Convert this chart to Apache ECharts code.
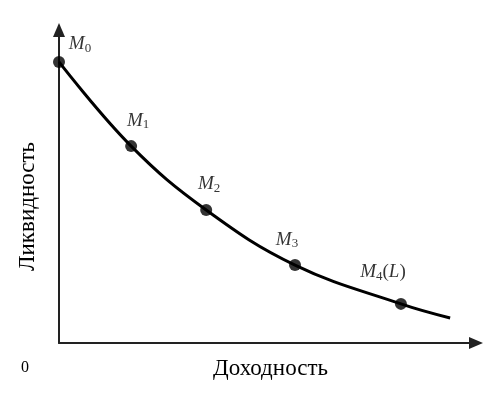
<!DOCTYPE html>
<html><head><meta charset="utf-8">
<script src="https://cdn.jsdelivr.net/npm/echarts@6/dist/echarts.min.js"></script>
<style>html,body{margin:0;padding:0;background:#fff}#c{width:495px;height:393px}</style>
</head><body><div id="c"></div>
<script>
// Curve (yield -> liquidity)
var curveX = [0, 17.3, 35.3, 56.6, 82.0, 93.8];
var curveY = [89.8, 62.9, 42.5, 24.9, 12.5, 8.0];
// Marked points
var pointX = [0, 17.3, 35.3, 56.6, 82.0];
var pointY = [89.8, 62.9, 42.5, 24.9, 12.5];
var pointSub = ['0', '1', '2', '3', '4'];
var pointSuffix = ['', '', '', '', 'L'];
var xName = 'Доходность';
var yName = 'Ликвидность';
var originLabel = '0';

var labelOffsets = [[21, 8], [7, 0], [3, 0], [-8, 0], [-18, -6]];
var serif = '"Liberation Serif", "DejaVu Serif", serif';

var chart = echarts.init(document.getElementById('c'));
chart.setOption({
  animation: false,
  grid: {left: 59, top: 30, right: 19, bottom: 50},
  xAxis: {
    type: 'value', min: 0, max: 100,
    name: xName, nameLocation: 'middle', nameGap: 14,
    nameTextStyle: {fontFamily: serif, fontSize: 23, color: '#000', padding: [0, 0, 0, 6]},
    axisLine: {show: true, lineStyle: {color: '#222', width: 2}, symbol: ['none', 'triangle'], symbolSize: [12, 14]},
    axisTick: {show: false}, axisLabel: {show: false}, splitLine: {show: false}
  },
  yAxis: {
    type: 'value', min: 0, max: 100,
    name: yName, nameLocation: 'middle', nameGap: 20, nameRotate: 90,
    nameTextStyle: {fontFamily: serif, fontSize: 23, color: '#000', padding: [0, 40, 0, 0]},
    axisLine: {show: true, lineStyle: {color: '#222', width: 2}, symbol: ['none', 'triangle'], symbolSize: [12, 14]},
    axisTick: {show: false}, axisLabel: {show: false}, splitLine: {show: false}
  },
  graphic: [{type: 'text', left: 21, top: 360, style: {text: originLabel, font: '16px ' + serif, fill: '#000'}}],
  series: [
    {type: 'line', smooth: 0.4, showSymbol: false, data: curveX.map(function (x, i) { return [x, curveY[i]]; }),
     lineStyle: {color: '#000', width: 3}},
    {type: 'scatter', symbolSize: 12, itemStyle: {color: '#000'},
     data: pointX.map(function (x, i) {
       return {value: [x, pointY[i]], label: {offset: labelOffsets[i]}};
     }),
     label: {show: true, position: 'top', distance: 9, color: '#000',
       formatter: function (p) {
         var i = p.dataIndex;
         var s = '{m|M}{s|' + pointSub[i] + '}';
         if (pointSuffix[i]) s += '{p|(}{m|' + pointSuffix[i] + '}{p|)}';
         return s;
       },
       rich: {
         m: {fontFamily: serif, fontStyle: 'italic', fontSize: 19, color: '#000'},
         s: {fontFamily: serif, fontSize: 13, color: '#000', padding: [8, 0, 0, 0]},
         p: {fontFamily: serif, fontSize: 19, color: '#000'}
       }}
    }
  ]
});
</script></body></html>
